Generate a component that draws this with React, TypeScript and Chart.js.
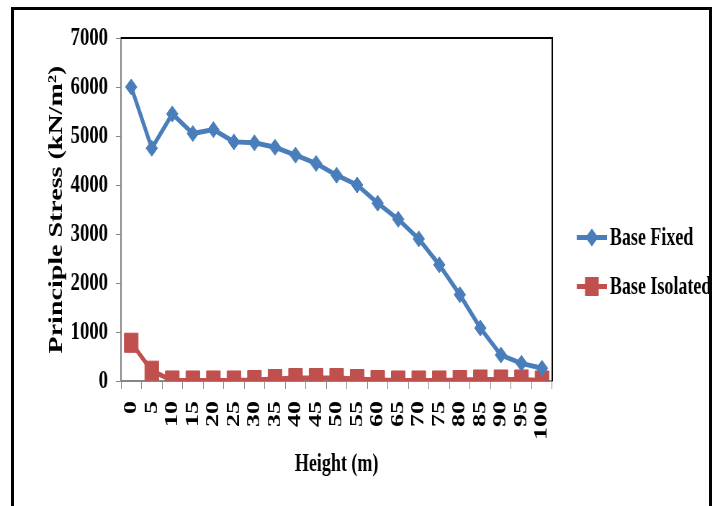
import React, { useEffect, useRef } from "react";
import { Chart, registerables } from "chart.js";

Chart.register(...registerables);

const heights = ["0", "5", "10", "15", "20", "25", "30", "35", "40", "45", "50", "55", "60", "65", "70", "75", "80", "85", "90", "95", "100"];
const baseFixed = [6000, 4750, 5450, 5050, 5130, 4880, 4860, 4770, 4610, 4440, 4200, 4000, 3630, 3300, 2900, 2370, 1760, 1080, 530, 360, 260];
const baseIsolated = [780, 210, 10, 10, 10, 10, 20, 40, 60, 60, 60, 40, 20, 10, 10, 10, 20, 30, 30, 30, 10];
const seriesNames = ["Base Fixed", "Base Isolated"];
const yTickMin = 0;
const yTickMax = 7000;
const yTickStep = 1000;

const BLUE = "#4a7ebb";
const RED = "#c0504d";
const FONT = "'Liberation Serif', 'Times New Roman', serif";
const SX = 0.72;
const CW = 1006;
const CH = 506;

const framePlugin = {
  id: "frameAndLegend",
  afterDraw(chart: any) {
    const { ctx, chartArea } = chart;
    ctx.save();
    // black top & right border of plot area
    ctx.strokeStyle = "#000";
    ctx.lineWidth = 2;
    ctx.beginPath();
    ctx.moveTo(chartArea.left, chartArea.top);
    ctx.lineTo(chartArea.right, chartArea.top);
    ctx.lineTo(chartArea.right, chartArea.bottom);
    ctx.stroke();

    // legend
    const x0 = chartArea.right + 34;
    const yc = chart.height / 2 + 9;
    chart.data.datasets.forEach((ds: any, i: number) => {
      const y = yc + (i - 0.5) * 49;
      ctx.strokeStyle = ds.borderColor;
      ctx.lineWidth = 5;
      ctx.beginPath();
      ctx.moveTo(x0, y);
      ctx.lineTo(x0 + 42, y);
      ctx.stroke();
      ctx.fillStyle = ds.borderColor;
      ctx.beginPath();
      if (ds.pointStyle === "rectRot") {
        const r = 9;
        ctx.moveTo(x0 + 21 - r, y);
        ctx.lineTo(x0 + 21, y - r);
        ctx.lineTo(x0 + 21 + r, y);
        ctx.lineTo(x0 + 21, y + r);
        ctx.closePath();
      } else {
        ctx.rect(x0 + 21 - 9.5, y - 9.5, 19, 19);
      }
      ctx.fill();
      ctx.fillStyle = "#000";
      ctx.font = `bold 25px ${FONT}`;
      ctx.textBaseline = "middle";
      ctx.textAlign = "left";
      ctx.fillText(ds.label, x0 + 46, y + 1);
    });
    ctx.restore();
  },
};

export default function App() {
  const ref = useRef<HTMLCanvasElement | null>(null);
  useEffect(() => {
    document.body.style.margin = "0";
    const canvas = ref.current;
    if (!canvas) return;
    const chart = new Chart(canvas, {
      type: "line",
      data: {
        labels: heights,
        datasets: [
          {
            label: seriesNames[0],
            data: baseFixed,
            borderColor: BLUE,
            backgroundColor: BLUE,
            borderWidth: 5,
            pointStyle: "rectRot",
            pointRadius: 8,
            pointBorderWidth: 1,
            pointBackgroundColor: BLUE,
            pointBorderColor: BLUE,
            tension: 0,
          },
          {
            label: seriesNames[1],
            data: baseIsolated,
            borderColor: RED,
            backgroundColor: RED,
            borderWidth: 5,
            pointStyle: "rect",
            pointRadius: 13.5,
            pointBorderWidth: 1,
            pointBackgroundColor: RED,
            pointBorderColor: RED,
            tension: 0,
          },
        ],
      },
      options: {
        responsive: false,
        animation: false,
        devicePixelRatio: 1,
        layout: { padding: { top: 38, right: 239, bottom: 0, left: 0 } },
        plugins: { legend: { display: false }, tooltip: { enabled: false } },
        scales: {
          x: {
            offset: true,
            grid: { offset: true, drawOnChartArea: false, drawTicks: true, tickLength: 8, color: "#868686" },
            border: { color: "#868686", width: 2 },
            ticks: {
              color: "#000",
              font: { family: FONT, size: 26, weight: "bold" },
              minRotation: 90,
              maxRotation: 90,
              autoSkip: false,
              padding: 12,
            },
            title: {
              display: true,
              text: "Height (m)",
              color: "#000",
              font: { family: FONT, size: 25, weight: "bold" },
              padding: { top: 0, bottom: 26 },
            },
            afterFit: (s: any) => {
              s.height = 125;
            },
          },
          y: {
            min: yTickMin,
            max: yTickMax,
            grid: { drawOnChartArea: false, drawTicks: true, tickLength: 7, color: "#868686" },
            border: { color: "#868686", width: 2 },
            ticks: {
              stepSize: yTickStep,
              color: "#000",
              font: { family: FONT, size: 26, weight: "bold" },
              padding: 11,
              callback: (v: any) => String(v),
            },
            title: {
              display: true,
              text: "Principle Stress (kN/m²)",
              color: "#000",
              font: { family: FONT, size: 28, weight: "bold" },
              padding: { top: 62, bottom: 0 },
            },
            afterFit: (s: any) => {
              s.width = 168;
            },
          },
        },
      },
      plugins: [framePlugin],
    });
    return () => chart.destroy();
  }, []);

  return (
    <div style={{ position: "relative", width: 724, height: 506, overflow: "hidden", background: "#fff" }}>
      <div style={{ position: "absolute", left: 0, top: 0, width: CW, height: CH, transform: `scaleX(${SX})`, transformOrigin: "0 0" }}>
        <canvas ref={ref} width={CW} height={CH} style={{ display: "block" }} />
      </div>
      <div
        style={{
          position: "absolute",
          left: 11,
          top: 7,
          width: 695,
          height: 600,
          border: "3px solid #000",
          pointerEvents: "none",
        }}
      />
    </div>
  );
}
